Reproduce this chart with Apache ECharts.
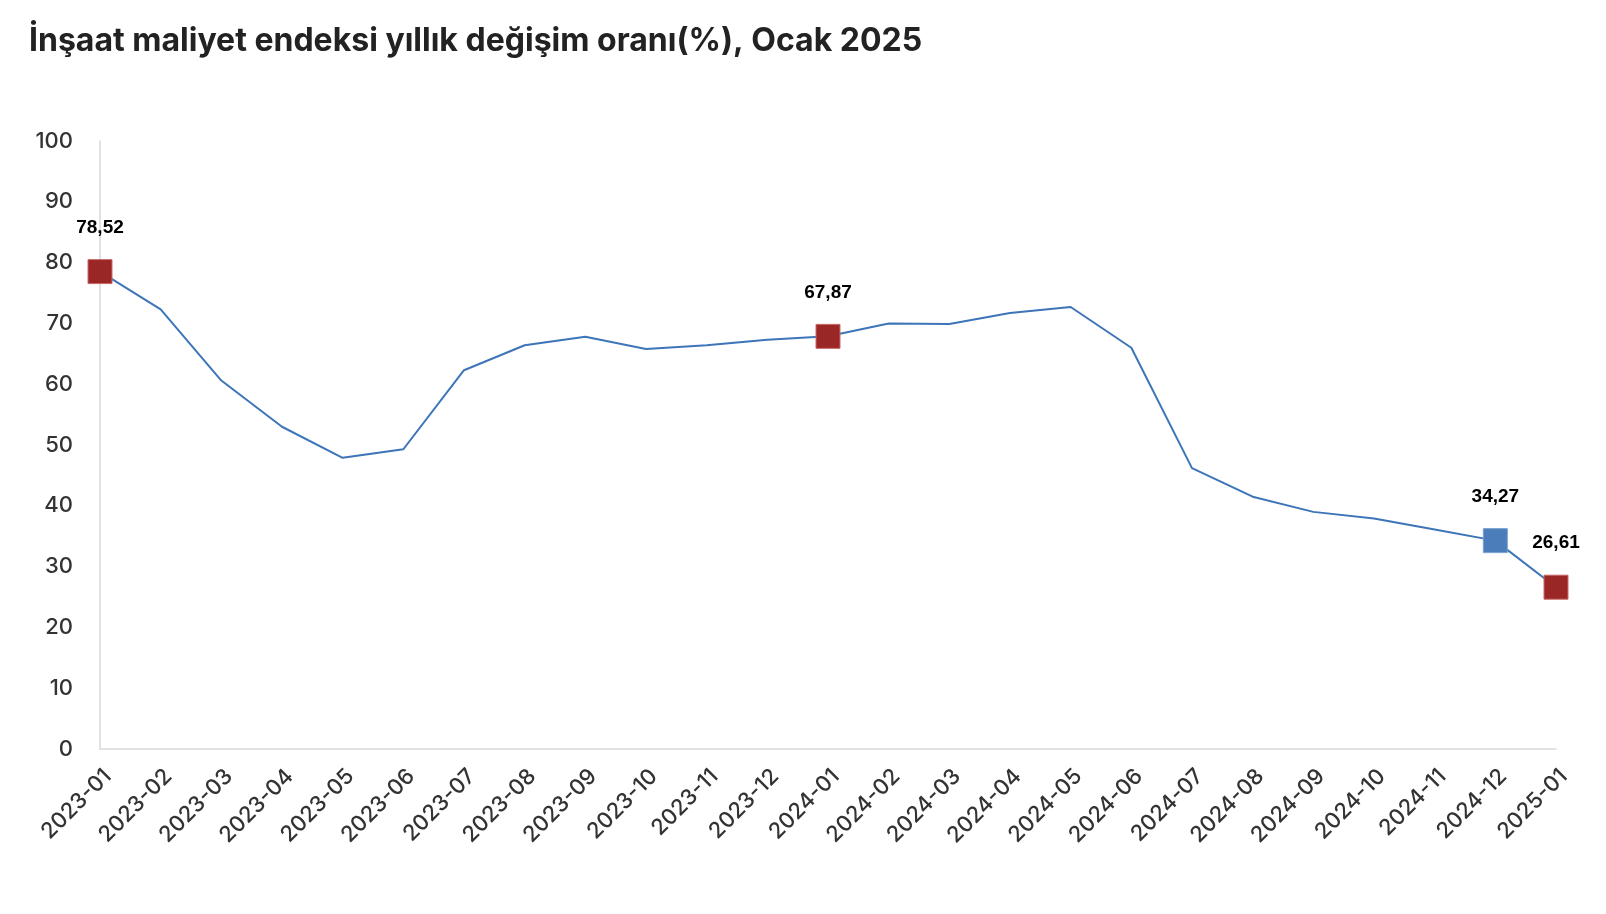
<!DOCTYPE html>
<html>
<head>
<meta charset="utf-8">
<script src="https://cdn.jsdelivr.net/npm/echarts@6/dist/echarts.min.js"></script>
<style>
  html, body { margin: 0; padding: 0; background: #fff; }
  #chart { width: 1606px; height: 914px; }
</style>
</head>
<body>
<div id="chart"></div>
<script>
const months = [
  "2023-01", "2023-02", "2023-03", "2023-04", "2023-05", "2023-06",
  "2023-07", "2023-08", "2023-09", "2023-10", "2023-11", "2023-12",
  "2024-01", "2024-02", "2024-03", "2024-04", "2024-05", "2024-06",
  "2024-07", "2024-08", "2024-09", "2024-10", "2024-11", "2024-12",
  "2025-01",
];
const rates = [
  78.52, 72.3, 60.6, 53.0, 47.9, 49.3,
  62.3, 66.4, 67.8, 65.8, 66.4, 67.3,
  67.87, 70.0, 69.9, 71.7, 72.7, 66.0,
  46.2, 41.5, 39.0, 37.9, 36.1, 34.27,
  26.61,
];
const redMonths = ["2023-01", "2024-01", "2025-01"];
const blueMonths = ["2024-12"];

const LINE = "#3d75b8";
const RED = "#9b2626";
const BLUE = "#4a7dba";
const AXIS_FONT = "Inter, Roboto, sans-serif";

const fmt = (v) => v.toFixed(2).replace(".", ",");

const seriesData = months.map((m, i) => {
  const isRed = redMonths.includes(m);
  const isBlue = blueMonths.includes(m);
  if (!isRed && !isBlue) {
    return { value: rates[i], symbol: "none" };
  }
  const color = isRed ? RED : BLUE;
  return {
    value: rates[i],
    symbol: "rect",
    symbolSize: 24,
    itemStyle: {
      color,
      borderColor: isRed ? "#c86a6a" : "#7aa0d0",
      borderWidth: 1,
    },
    label: {
      show: true,
      position: "top",
      distance: 22,
      formatter: (p) => fmt(p.value),
      color: "#000",
      fontFamily: "Liberation Sans, Arial, sans-serif",
      fontWeight: "bold",
      fontSize: 19,
    },
  };
});

const chart = echarts.init(document.getElementById("chart"), null, { renderer: "canvas" });

chart.setOption({
  animation: false,
  backgroundColor: "#fff",
  title: {
    text: "İnşaat maliyet endeksi yıllık değişim oranı(%), Ocak 2025",
    left: 24,
    top: 20,
    textStyle: {
      fontFamily: "Inter, Roboto, sans-serif",
      fontWeight: "bold",
      fontSize: 32,
      color: "#222",
    },
  },
  grid: {
    left: 100,
    right: 50,
    top: 141,
    bottom: 165,
    containLabel: false,
  },
  xAxis: {
    type: "category",
    data: months,
    boundaryGap: false,
    axisLine: { show: true, lineStyle: { color: "#d9d9d9", width: 1.5 } },
    axisTick: { show: false },
    axisLabel: {
      rotate: 45,
      interval: 0,
      margin: 16,
      verticalAlign: "top",
      color: "#333",
      fontFamily: AXIS_FONT,
      fontWeight: 500,
      fontSize: 22,
    },
    splitLine: { show: false },
  },
  yAxis: {
    type: "value",
    min: 0,
    max: 100,
    interval: 10,
    axisLine: { show: true, lineStyle: { color: "#d9d9d9", width: 1.5 } },
    axisTick: { show: false },
    splitLine: { show: false },
    axisLabel: {
      margin: 27,
      color: "#333",
      fontFamily: AXIS_FONT,
      fontWeight: 500,
      fontSize: 22,
    },
  },
  series: [
    {
      type: "line",
      data: seriesData,
      lineStyle: { color: LINE, width: 2 },
      itemStyle: { color: LINE },
      emphasis: { disabled: true },
      z: 3,
    },
  ],
});

window.addEventListener("resize", () => chart.resize());
</script>
</body>
</html>
